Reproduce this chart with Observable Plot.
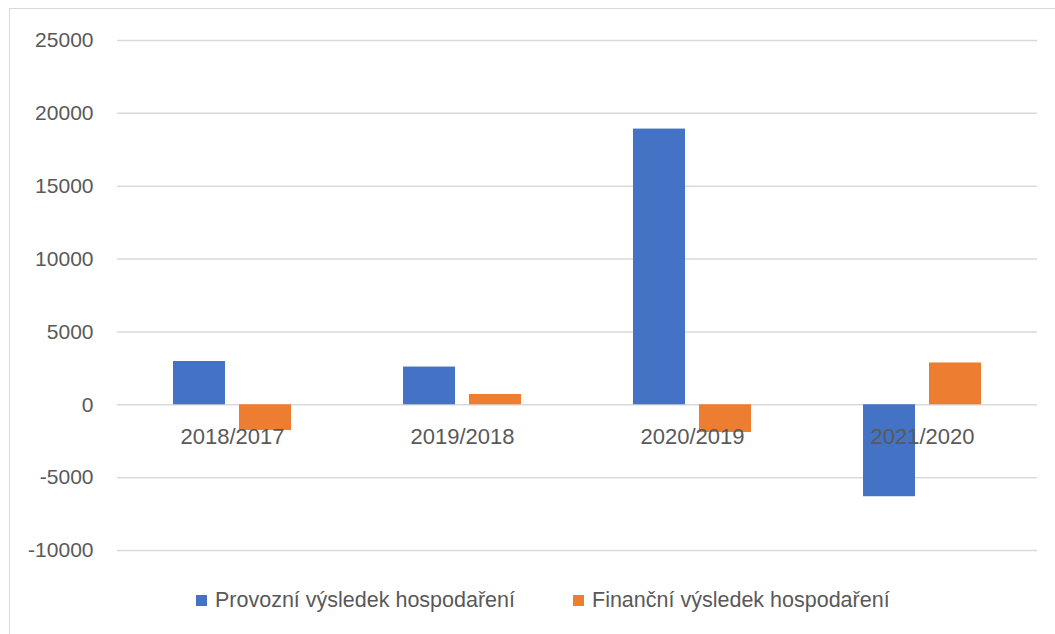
<!DOCTYPE html>
<html>
<head>
<meta charset="utf-8">
<script src="https://cdn.jsdelivr.net/npm/d3@7"></script>
<script src="https://cdn.jsdelivr.net/npm/@observablehq/plot@0.6"></script>
<style>
  html, body { margin: 0; padding: 0; background: #fff; }
  #wrap { position: relative; width: 1055px; height: 634px; overflow: hidden; font-family: "Liberation Sans", Arial, sans-serif; }
  #frame { position: absolute; left: 9px; top: 8px; width: 1100px; height: 700px; border: 1.5px solid #d9d9d9; box-sizing: border-box; }
  #chart { position: absolute; left: 0; top: 0; }
  .leg { position: absolute; top: 588px; display: flex; align-items: center; font-size: 21.5px; color: #595959; white-space: nowrap; }
  .sw { width: 11px; height: 11px; margin-right: 8px; }
</style>
</head>
<body>
<div id="wrap">
  <div id="frame"></div>
  <div id="chart"></div>
  <div class="leg" style="left:196px"><span class="sw" style="background:#4472C4"></span><span>Provozní výsledek hospodaření</span></div>
  <div class="leg" style="left:573px"><span class="sw" style="background:#ED7D31"></span><span>Finanční výsledek hospodaření</span></div>
</div>
<script>
const categories = ["2018/2017", "2019/2018", "2020/2019", "2021/2020"];
const provozni = [2970, 2590, 18920, -6310];
const financni = [-1760, 710, -1900, 2870];
const yTicks = [-10000, -5000, 0, 5000, 10000, 15000, 20000, 25000];

const rows = categories.map((c, i) => ({cat: c, provozni: provozni[i], financni: financni[i]}));

const plot = Plot.plot({
  width: 1055,
  height: 570,
  marginLeft: 117,
  marginRight: 18,
  marginTop: 40,
  marginBottom: 20,
  style: {fontFamily: "'Liberation Sans', Arial, sans-serif", background: "transparent"},
  x: {domain: categories, padding: 0, axis: null},
  y: {domain: [-10000, 25000], axis: null},
  marks: [
    Plot.gridY(yTicks, {stroke: "#d9d9d9", strokeOpacity: 1, strokeWidth: 1.5}),
    Plot.axisY(yTicks, {tickSize: 0, tickPadding: 24, fontSize: 21, fill: "#595959", tickFormat: d => String(d), label: null}),
    Plot.barY(rows, {x: "cat", y: "provozni", fill: "#4472C4", insetLeft: 56, insetRight: 122}),
    Plot.barY(rows, {x: "cat", y: "financni", fill: "#ED7D31", insetLeft: 122, insetRight: 56}),
    Plot.text(categories, {x: d => d, y: () => 0, dy: 32, fontSize: 22, fill: "#595959"})
  ]
});
document.getElementById("chart").appendChild(plot);
</script>
</body>
</html>
